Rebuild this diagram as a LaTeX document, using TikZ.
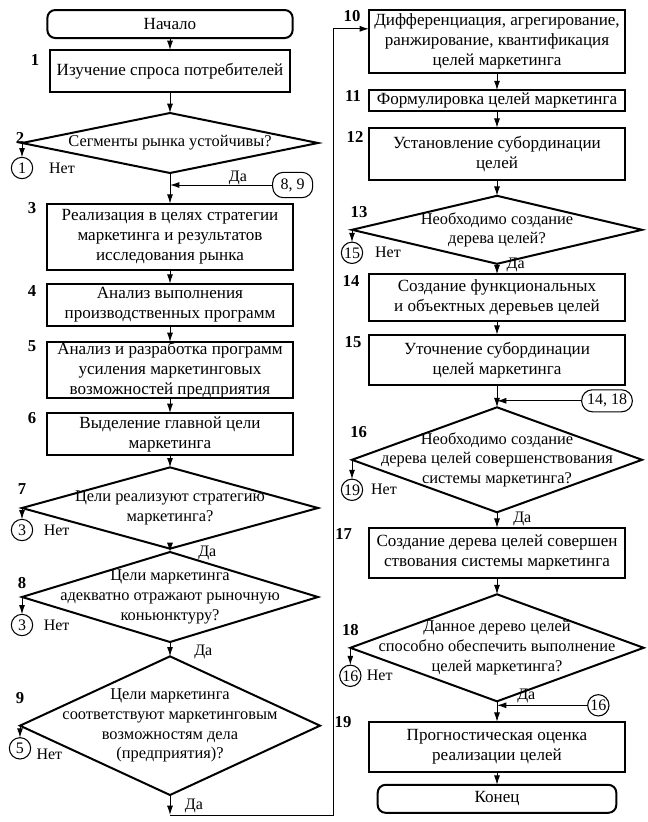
\documentclass[tikz,border=0pt]{standalone}
\usepackage{fontspec}
\setmainfont{Liberation Serif}
\usetikzlibrary{positioning,shapes.geometric,arrows.meta}

\begin{document}
\begin{tikzpicture}
[every node/.style={font=\fontsize{12}{14.5}\selectfont,align=center,inner sep=0pt,outer sep=0pt},
 every label/.style={font=\fontsize{12.3}{14.8}\selectfont},
 term/.style={draw=black,line width=1.5pt,rounded corners=6pt,minimum height=21pt,font=\fontsize{12.8}{15}\selectfont},
 proc/.style={draw=black,line width=1.5pt,font=\fontsize{12.8}{15}\selectfont},
 dec/.style={draw=black,line width=1.5pt,diamond},
 num/.style={font=\fontsize{12.5}{14.5}\selectfont\bfseries},
 conn/.style={draw=black,line width=0.8pt,circle,minimum size=16pt},
 oval/.style={draw=black,line width=0.8pt,rounded corners=8pt},
 >={Latex[length=7pt,width=4.5pt]},
 line width=0.75pt]
\useasboundingbox (0,0) rectangle (485.25pt,-616.5pt);

% left column
\node[term,minimum width=184pt] (start) at (127.5pt,-18pt) {Начало};
\node[proc,minimum width=180pt,minimum height=31.5pt] (b1) [on grid,below=35.25pt of start] {Изучение спроса потребителей};
\node[dec,minimum width=222pt,minimum height=45pt,label={center:Сегменты рынка устойчивы?}] (d2) [on grid,below=54pt of b1] {};
\node[proc,minimum width=185pt,minimum height=50pt] (b3) [on grid,below=70.5pt of d2] {Реализация в целях стратегии\\маркетинга и результатов\\исследования рынка};
\node[proc,minimum width=185pt,minimum height=32pt] (b4) [on grid,below=51pt of b3] {Анализ выполнения\\производственных программ};
\node[proc,minimum width=185pt,minimum height=42pt] (b5) [on grid,below=48.75pt of b4] {Анализ и разработка программ\\усиления маркетинговых\\возможностей предприятия};
\node[proc,minimum width=185pt,minimum height=31.5pt] (b6) [on grid,below=48pt of b5] {Выделение главной цели\\маркетинга};
\node[dec,minimum width=222pt,minimum height=61pt,label={center:{Цели реализуют стратегию\\маркетинга?}}] (d7) [on grid,below=55.5pt of b6] {};
\node[dec,minimum width=222pt,minimum height=67.5pt,label={center:{Цели маркетинга\\адекватно отражают рыночную\\коньюнктуру?}}] (d8) [on grid,below=66.75pt of d7] {};
\node[dec,minimum width=225pt,minimum height=104pt,label={center:{Цели маркетинга\\соответствуют маркетинговым\\возможностям дела\\(предприятия)?}}] (d9) [on grid,below=96.5pt of d8] {};

% right column
\node[proc,minimum width=192pt,minimum height=47.25pt] (b10) [on grid,below right=13pt and 245.25pt of start] {Дифференциация, агрегирование,\\ранжирование, квантификация\\целей маркетинга};
\node[proc,minimum width=192pt,minimum height=16pt] (b11) [on grid,below=44.6pt of b10] {Формулировка целей маркетинга};
\node[proc,minimum width=192pt,minimum height=39pt] (b12) [on grid,below=39.75pt of b11] {Установление субординации\\целей};
\node[dec,minimum width=217.5pt,minimum height=51pt,label={center:{Необходимо создание\\дерева целей?}}] (d13) [on grid,below=57pt of b12] {};
\node[proc,minimum width=192pt,minimum height=35.25pt] (b14) [on grid,below=51pt of d13] {Создание функциональных\\и объектных деревьев целей};
\node[proc,minimum width=192pt,minimum height=37.5pt] (b15) [on grid,below=46.5pt of b14] {Уточнение субординации\\целей маркетинга};
\node[dec,minimum width=217.5pt,minimum height=78.75pt,label={center:{Необходимо создание\\дерева целей совершенствования\\системы маркетинга?}}] (d16) [on grid,below=75pt of b15] {};
\node[proc,minimum width=192pt,minimum height=37.5pt] (b17) [on grid,below=69.75pt of d16] {Создание дерева целей совершен\\ствования системы маркетинга};
\node[dec,minimum width=220pt,minimum height=80.25pt,label={center:{Данное дерево целей\\способно обеспечить выполнение\\целей маркетинга?}}] (d18) [on grid,below=71.25pt of b17] {};
\node[proc,minimum width=192pt,minimum height=37.5pt] (b19) [on grid,below=74.25pt of d18] {Прогностическая оценка\\реализации целей};
\node[term,minimum width=179pt] (end) [on grid,below=39pt of b19] {Конец};

% step numbers
\node[num] (n1)  [on grid,below left=7.5pt and 11.25pt of b1.north west,anchor=center] {1};
\node[num] (n2)  [on grid,above left=3.5pt and 1.5pt of d2.west,anchor=center] {2};
\node[num] (n3)  [on grid,below left=3pt and 11pt of b3.north west,anchor=center] {3};
\node[num] (n4)  [on grid,below left=5.5pt and 11pt of b4.north west,anchor=center] {4};
\node[num] (n5)  [on grid,below left=3pt and 11pt of b5.north west,anchor=center] {5};
\node[num] (n6)  [on grid,below left=3.75pt and 11pt of b6.north west,anchor=center] {6};
\node[num] (n7)  [on grid,above=14pt of d7.west,anchor=center] {7};
\node[num] (n8)  [on grid,above=10.5pt of d8.west,anchor=center] {8};
\node[num] (n9)  [on grid,above=21pt of d9.west,anchor=center] {9};
\node[num] (n10) [on grid,below left=4.5pt and 12.75pt of b10.north west,anchor=center] {10};
\node[num] (n11) [on grid,below left=4.5pt and 12pt of b11.north west,anchor=center] {11};
\node[num] (n12) [on grid,below left=6.75pt and 10.5pt of b12.north west,anchor=center] {12};
\node[num] (n13) [on grid,above right=13pt and 5.25pt of d13.west,anchor=center] {13};
\node[num] (n14) [on grid,below left=5.25pt and 13.5pt of b14.north west,anchor=center] {14};
\node[num] (n15) [on grid,below left=5.25pt and 12pt of b15.north west,anchor=center] {15};
\node[num] (n16) [on grid,above right=21pt and 5pt of d16.west,anchor=center] {16};
\node[num] (n17) [on grid,below left=4.5pt and 19pt of b17.north west,anchor=center] {17};
\node[num] (n18) [on grid,above=13.5pt of d18.west,anchor=center] {18};
\node[num] (n19) [on grid,left=19.5pt of b19.north west,anchor=center] {19};

% connectors
\node[conn] (c1)   [on grid,below=18.75pt of d2.west,anchor=center] {1};
\node[conn] (c3a)  [on grid,below=16.5pt of d7.west,anchor=center] {3};
\node[conn] (c3b)  [on grid,below=21pt of d8.west,anchor=center] {3};
\node[conn] (c5)   [on grid,below=17pt of d9.west,anchor=center] {5};
\node[conn] (c15)  [on grid,below=17.25pt of d13.west,anchor=center] {15};
\node[conn] (c19)  [on grid,below=22.5pt of d16.west,anchor=center] {19};
\node[conn] (c16a) [on grid,below=21pt of d18.west,anchor=center] {16};
\node[oval,minimum width=30pt,minimum height=19pt] (o89) [on grid,below right=9pt and 92pt of d2.south,anchor=center] {8, 9};
\node[oval,minimum width=38pt,minimum height=16.5pt] (o1418) [on grid,below right=12pt and 82.5pt of b15.south,anchor=center] {14, 18};
\node[conn] (c16b) [on grid,below right=3pt and 76pt of d18.south,anchor=center] {16};

% answers
\node (t2)  [on grid,right=30pt of c1] {Нет};
\node (t7)  [on grid,right=26pt of c3a] {Нет};
\node (t8)  [on grid,right=26pt of c3b] {Нет};
\node (t9)  [on grid,below right=4.5pt and 22pt of c5] {Нет};
\node (t13) [on grid,right=27pt of c15] {Нет};
\node (t16) [on grid,right=24pt of c19] {Нет};
\node (t18) [on grid,right=22pt of c16a] {Нет};
\node (y2)  [on grid,above left=5.25pt and 41pt of o89] {Да};
\node (y7)  [on grid,below right=3pt and 28pt of d7.south,anchor=center] {Да};
\node (y8)  [on grid,below right=7.5pt and 25pt of d8.south,anchor=center] {Да};
\node (y9)  [on grid,below right=8pt and 18pt of d9.south,anchor=center] {Да};
\node (y13) [on grid,below right=0.5pt and 14pt of d13.south,anchor=center] {Да};
\node (y16) [on grid,below right=5pt and 19pt of d16.south,anchor=center] {Да};
\node (y18) [on grid,above right=4pt and 22pt of d18.south,anchor=center] {Да};

\path[->] (start) edge (b1);
\path[->] (b1)    edge (d2);
\path[->] (d2)    edge (b3);
\path[->] (b3)    edge (b4);
\path[->] (b4)    edge (b5);
\path[->] (b5)    edge (b6);
\path[->] (b6)    edge (d7);
\path[->] (d7)    edge (d8);
\path[->] (d8)    edge (d9);
\path[->] (b10)   edge (b11);
\path[->] (b11)   edge (b12);
\path[->] (b12)   edge (d13);
\path[->] (d13)   edge (b14);
\path[->] (b14)   edge (b15);
\path[->] (b15)   edge (d16);
\path[->] (d16)   edge (b17);
\path[->] (b17)   edge (d18);
\path[->] (d18)   edge (b19);
\path[->] (b19)   edge (end);

\path[->] (d2.west)  edge (c1);
\path[->] (d7.west)  edge (c3a);
\path[->] (d8.west)  edge (c3b);
\path[->] (d9.west)  edge (c5);
\path[->] (d13.west) edge (c15);
\path[->] (d16.west) edge (c19);
\path[->] (d18.west) edge (c16a);

\path[->] (o89)   edge (o89 -| b3.north);
\path[->] (o1418) edge (o1418 -| d16.north);
\path[->] (c16b)  edge (c16b -| b19.north);

% return line from 9 to 10
\coordinate[on grid,below=15pt of d9.south] (turn);
\coordinate[on grid,above left=9.4pt and 27pt of b10.west] (rettop);
\draw[->] (d9.south) -- (turn);
\draw[->] (turn) -| (rettop) -- (rettop -| b10.west);
\end{tikzpicture}
\end{document}
